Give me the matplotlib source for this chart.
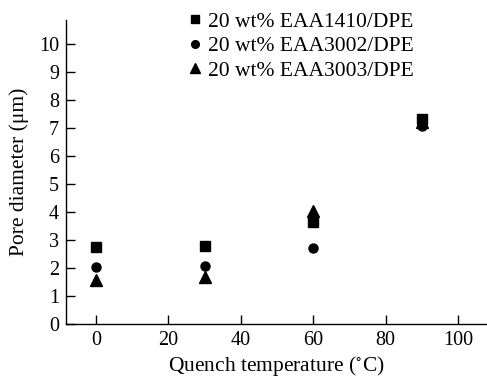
"""
Pore diameter vs quench temperature for EAA/DPE blends.
"""

import matplotlib
matplotlib.use("Agg")
import matplotlib.pyplot as plt


QUENCH_TEMP = [0, 30, 60, 90]

EAA1410 = [2.75, 2.79, 3.65, 7.32]
EAA3002 = [2.04, 2.08, 2.70, 7.08]
EAA3003 = [1.58, 1.68, 4.05, 7.20]

LABELS = ["20 wt% EAA1410/DPE", "20 wt% EAA3002/DPE", "20 wt% EAA3003/DPE"]

X_TICKS = [0, 20, 40, 60, 80, 100]
Y_TICKS = list(range(0, 11))


def plot_chart() -> None:
    plt.rcParams["font.family"] = ["Liberation Serif", "DejaVu Serif"]
    plt.rcParams["mathtext.fontset"] = "stix"

    fig = plt.figure(figsize=(4.87, 3.80), dpi=100)
    ax = fig.add_axes([66 / 487, 56 / 380, 421 / 487, 304 / 380])

    ax.plot(QUENCH_TEMP, EAA1410, "s", color="black", ms=6.5, label=LABELS[0])
    ax.plot(QUENCH_TEMP, EAA3002, "o", color="black", ms=6.5, label=LABELS[1])
    ax.plot(QUENCH_TEMP, EAA3003, "^", color="black", ms=8, label=LABELS[2])

    ax.set_xlim(-8.3, 108)
    ax.set_ylim(0, 10.86)
    ax.set_xticks(X_TICKS)
    ax.set_yticks(Y_TICKS)

    for side in ["top", "right"]:
        ax.spines[side].set_visible(False)
    for side in ["left", "bottom"]:
        ax.spines[side].set_linewidth(1.0)

    ax.tick_params(direction="in", length=6.5, width=1.0, labelsize=14.5, pad=5)

    ax.set_xlabel("Quench temperature ($^{\\circ}$C)", fontsize=15.5, labelpad=3)
    ax.set_ylabel("Pore diameter (μm)", fontsize=15.5, labelpad=7)

    ax.legend(
        loc="upper left",
        bbox_to_anchor=(0.291, 1.027),
        frameon=False,
        fontsize=15.5,
        handlelength=0.6,
        handletextpad=0.3,
        labelspacing=0.2,
        numpoints=1,
        borderpad=0,
        borderaxespad=0,
        markerscale=0.85,
    )

    fig.savefig("out.png", dpi=100)


if __name__ == "__main__":
    plot_chart()
